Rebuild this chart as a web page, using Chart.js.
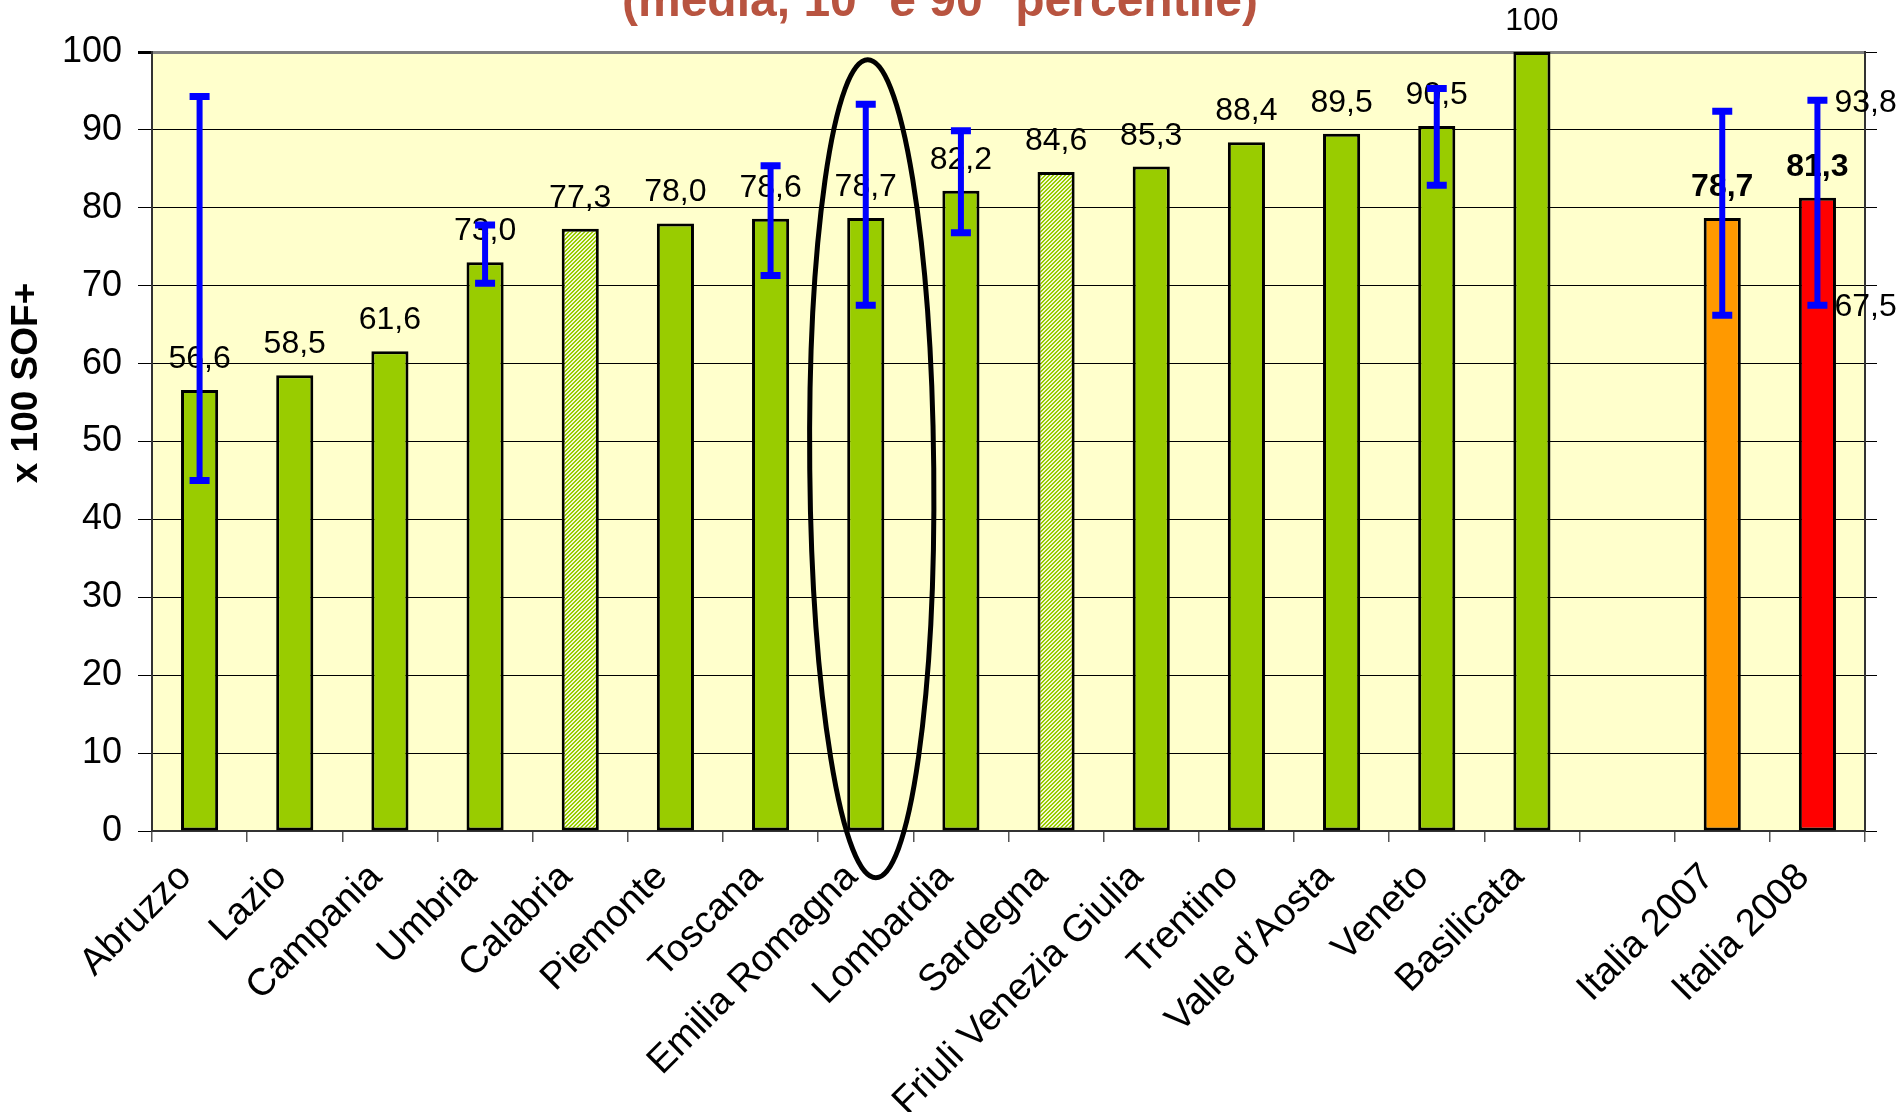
<!DOCTYPE html>
<html>
<head>
<meta charset="utf-8">
<script src="https://cdn.jsdelivr.net/npm/chart.js@4"></script>
<style>
  html, body { margin: 0; padding: 0; background: #fff; }
  #wrap { width: 1899px; height: 1112px; position: relative; }
</style>
</head>
<body>
<div id="wrap"><canvas id="chart"></canvas></div>
<script>
// regioni + media nazionale (slot vuoto prima di Italia)
const regions = ["Abruzzo", "Lazio", "Campania", "Umbria", "Calabria", "Piemonte", "Toscana",
  "Emilia Romagna", "Lombardia", "Sardegna", "Friuli Venezia Giulia", "Trentino",
  "Valle d\u2019Aosta", "Veneto", "Basilicata", "", "Italia 2007", "Italia 2008"];
const means = [56.6, 58.5, 61.6, 73.0, 77.3, 78.0, 78.6, 78.7, 82.2, 84.6, 85.3, 88.4, 89.5, 90.5, 100, null, 78.7, 81.3];
// 10° e 90° percentile
const p10 = [45.0, null, null, 70.3, null, null, 71.3, 67.5, 76.8, null, null, null, null, 82.9, null, null, 66.2, 67.5];
const p90 = [94.3, null, null, 77.8, null, null, 85.4, 93.3, 89.9, null, null, null, null, 95.3, null, null, 92.4, 93.8];
const hatched = ["Calabria", "Sardegna"];
const highlighted = "Emilia Romagna";

const FONT = '"Liberation Sans", Arial, sans-serif';

function fmt(v) {
  return v === 100 ? "100" : v.toFixed(1).replace(".", ",");
}

function makeHatch() {
  const c = document.createElement("canvas");
  c.width = 4; c.height = 4;
  const g = c.getContext("2d");
  g.fillStyle = "#f2f9d4";
  g.fillRect(0, 0, 4, 4);
  g.fillStyle = "#99cc00";
  for (let i = 0; i < 4; i++) {
    g.fillRect(i, 3 - i, 1, 1);
    g.fillRect(i, (4 - i) % 4, 1, 1);
  }
  return g.createPattern(c, "repeat");
}
const hatch = makeHatch();

function barColor(name) {
  if (hatched.includes(name)) return hatch;
  if (name === "Italia 2007") return "#ff9900";
  if (name === "Italia 2008") return "#ff0000";
  return "#99cc00";
}

const plotBg = {
  id: "plotBg",
  beforeDraw(chart) {
    const { ctx, chartArea: a } = chart;
    ctx.save();
    ctx.fillStyle = "#ffffcc";
    ctx.fillRect(a.left, a.top, a.width, a.height);
    ctx.restore();
  }
};

const valueLabels = {
  id: "valueLabels",
  afterDatasetsDraw(chart) {
    const ctx = chart.ctx;
    const meta = chart.getDatasetMeta(0);
    ctx.save();
    ctx.textAlign = "center";
    ctx.textBaseline = "alphabetic";
    ctx.fillStyle = "#000";
    meta.data.forEach((bar, i) => {
      if (means[i] == null) return;
      ctx.font = (regions[i].startsWith("Italia") ? "bold " : "") + "32px " + FONT;
      ctx.fillText(fmt(means[i]), bar.x, bar.y - 22);
    });
    ctx.restore();
  }
};

const errorBars = {
  id: "errorBars",
  afterDatasetsDraw(chart) {
    const ctx = chart.ctx;
    const y = chart.scales.y;
    const meta = chart.getDatasetMeta(0);
    ctx.save();
    ctx.strokeStyle = "#0000ff";
    meta.data.forEach((bar, i) => {
      if (p10[i] == null) return;
      const yl = y.getPixelForValue(p10[i]);
      const yh = y.getPixelForValue(p90[i]);
      ctx.lineWidth = 6;
      ctx.beginPath();
      ctx.moveTo(bar.x, yl);
      ctx.lineTo(bar.x, yh);
      ctx.stroke();
      ctx.lineWidth = 7;
      ctx.beginPath();
      ctx.moveTo(bar.x - 10, yl); ctx.lineTo(bar.x + 10, yl);
      ctx.moveTo(bar.x - 10, yh); ctx.lineTo(bar.x + 10, yh);
      ctx.stroke();
    });
    // percentili scritti accanto a Italia 2008
    const last = means.length - 1;
    const b = meta.data[last];
    ctx.fillStyle = "#000";
    ctx.font = "32px " + FONT;
    ctx.textAlign = "left";
    ctx.textBaseline = "middle";
    ctx.fillText(fmt(p90[last]), b.x + 17, y.getPixelForValue(p90[last]) + 3);
    ctx.fillText(fmt(p10[last]), b.x + 17, y.getPixelForValue(p10[last]) + 2);
    ctx.restore();
  }
};

const extras = {
  id: "extras",
  afterDraw(chart) {
    const { ctx, scales } = chart;
    ctx.save();
    // ellisse attorno all'Emilia Romagna
    const idx = regions.indexOf(highlighted);
    const cx = scales.x.getPixelForValue(idx) + 6;
    const top = scales.y.getPixelForValue(99);
    const bottom = scales.y.getPixelForValue(-6);
    ctx.strokeStyle = "#000";
    ctx.lineWidth = 5;
    ctx.beginPath();
    ctx.ellipse(cx, (top + bottom) / 2, 62, (bottom - top) / 2, -0.01, 0, Math.PI * 2);
    ctx.stroke();

    // titolo (tagliato in alto)
    ctx.fillStyle = "#b85440";
    ctx.font = "bold 48px " + FONT;
    ctx.textAlign = "center";
    ctx.textBaseline = "alphabetic";
    ctx.fillText("(media, 10\u00b0 e 90\u00b0 percentile)", 940, 16);

    // titolo asse y
    ctx.fillStyle = "#000";
    ctx.translate(27, 383);
    ctx.rotate(-Math.PI / 2);
    ctx.font = "bold 37px " + FONT;
    ctx.textBaseline = "middle";
    ctx.fillText("x 100 SOF+", 0, 0);
    ctx.restore();
  }
};

new Chart(document.getElementById("chart").getContext("2d"), {
  type: "bar",
  data: {
    labels: regions,
    datasets: [{
      data: means,
      backgroundColor: regions.map(barColor),
      borderColor: "#000",
      borderWidth: 3,
      borderSkipped: false,
      categoryPercentage: 1,
      barPercentage: 0.39
    }]
  },
  options: {
    responsive: true,
    maintainAspectRatio: false,
    animation: false,
    layout: { padding: { top: 52, right: 0, left: 0, bottom: 0 } },
    plugins: {
      legend: { display: false },
      tooltip: { enabled: false }
    },
    scales: {
      x: {
        grid: { offset: true, drawOnChartArea: false, tickLength: 11, color: "#555", lineWidth: 1.5 },
        border: { color: "#333", width: 2 },
        ticks: {
          autoSkip: false, minRotation: 45, maxRotation: 45, padding: 13, labelOffset: -14,
          color: "#000", font: { family: FONT, size: 38 }
        },
        afterFit(s) { s.height = 281; }
      },
      y: {
        min: 0, max: 100,
        ticks: { stepSize: 10, padding: 16, color: "#000", font: { family: FONT, size: 36 } },
        grid: {
          color: (c) => (c.tick && c.tick.value === 100 ? "#808080" : "#000"),
          lineWidth: (c) => (c.tick && c.tick.value === 100 ? 3 : 1),
          tickColor: "#000",
          tickLength: 14
        },
        border: { color: "#333", width: 2 },
        afterFit(s) { s.width = 152; }
      },
      y2: {
        position: "right",
        min: 0, max: 100,
        ticks: { stepSize: 10, display: false },
        grid: { drawOnChartArea: false, tickLength: 12, color: "#000" },
        border: { color: "#333", width: 2 },
        afterFit(s) { s.width = 34; }
      }
    }
  },
  plugins: [plotBg, valueLabels, errorBars, extras]
});
</script>
</body>
</html>
